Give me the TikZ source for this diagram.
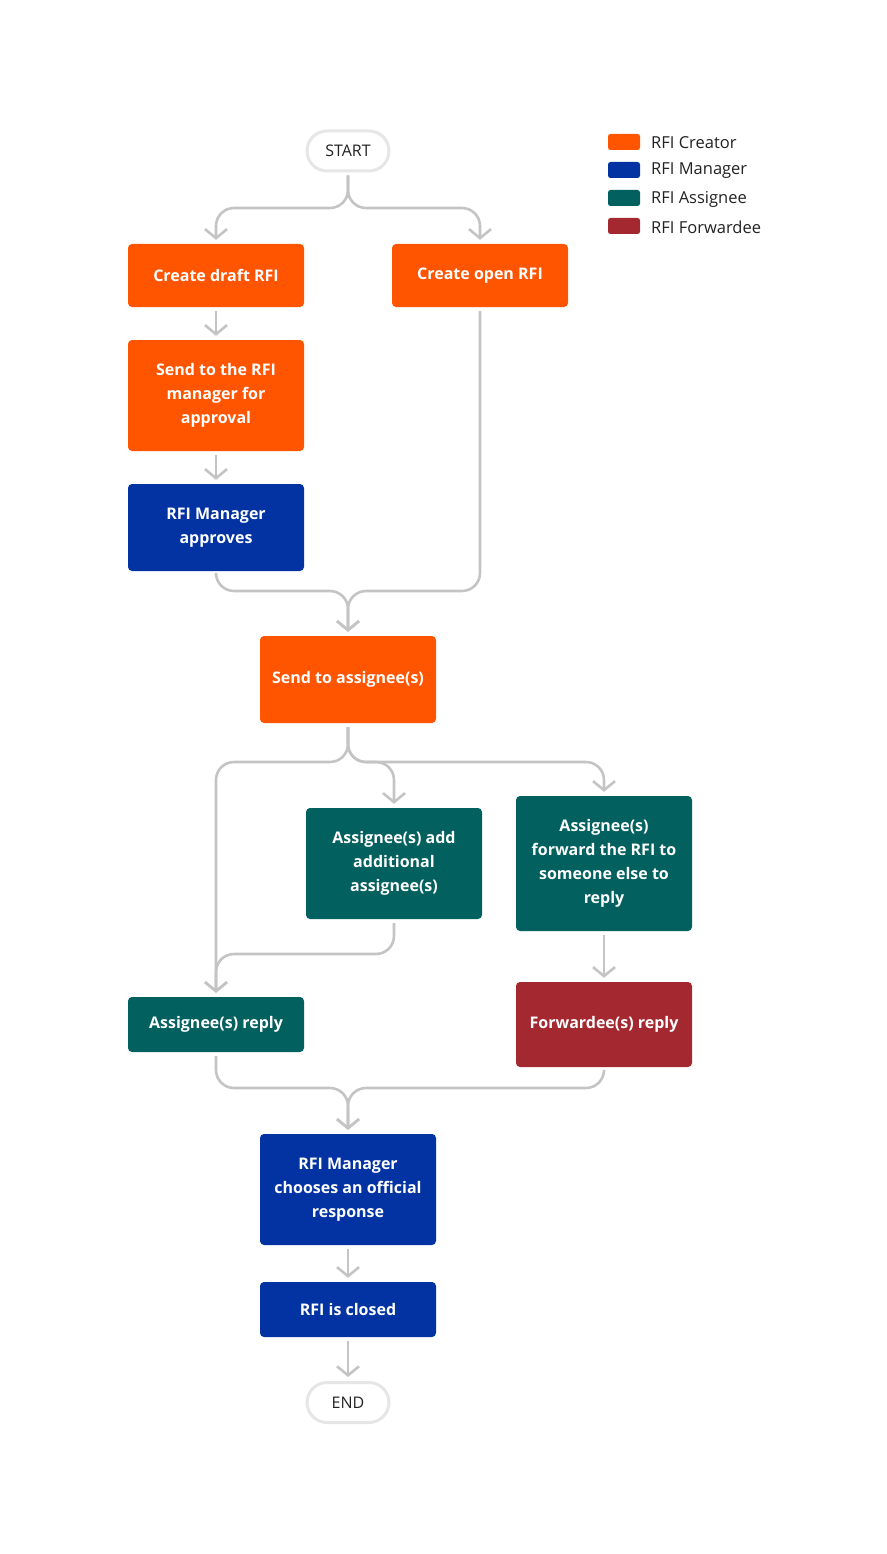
\documentclass[tikz,border=0pt]{standalone}
\usepackage{fontspec}
\setmainfont{Open Sans}
\usetikzlibrary{arrows.meta}
\definecolor{cOrange}{HTML}{FF5400}
\definecolor{cBlue}{HTML}{0333A3}
\definecolor{cTeal}{HTML}{02605E}
\definecolor{cRed}{HTML}{A3282F}
\definecolor{cLine}{HTML}{C4C4C4}
\definecolor{cTerm}{HTML}{E6E6E6}
\definecolor{cText}{HTML}{222222}
\tikzset{
  box/.style={rectangle, rounded corners=4pt, minimum width=176pt, inner sep=0pt,
    text=white, align=center, font=\fontsize{16}{24}\selectfont\bfseries,
    execute at begin node={\vspace*{2pt}}},
  term/.style={rectangle, rounded corners=20pt, draw=cTerm, line width=3pt, fill=white,
    minimum width=82pt, minimum height=40pt, inner sep=0pt, text=cText,
    font=\fontsize{16}{20}\selectfont},
  swatch/.style={rectangle, rounded corners=2.5pt, minimum width=32pt, minimum height=16pt, inner sep=0pt},
  legtext/.style={anchor=west, inner sep=0pt, text=cText, font=\fontsize{16.5}{20}\selectfont},
  conn/.style={draw=cLine, line width=2.6pt, rounded corners=18pt},
  arr/.style={conn, -{Straight Barb[length=9pt,width=22pt,line width=2.6pt]}},
}
\begin{document}
\begin{tikzpicture}[x=1pt,y=-1pt]
\useasboundingbox (0,0) rectangle (886,1554);
% legend
\node[swatch, fill=cOrange] (s1) at (624,142) {};
\node[swatch, fill=cBlue] (s2) at (624,170) {};
\node[swatch, fill=cTeal] (s3) at (624,198) {};
\node[swatch, fill=cRed] (s4) at (624,226) {};
\node[legtext] (l1) at (651,143) {RFI Creator};
\node[legtext] (l2) at (651,171) {RFI Manager};
\node[legtext] (l3) at (651,199) {RFI Assignee};
\node[legtext] (l4) at (651,227) {RFI Forwardee};
% nodes
\node[term] (start) at (348,151) {START};
\node[box, fill=cOrange, minimum height=63pt] (draft) at (216,275.5) {Create draft RFI};
\node[box, fill=cOrange, minimum height=63pt] (open) at (480,275.5) {Create open RFI};
\node[box, fill=cOrange, minimum height=111pt] (send) at (216,395.5) {Send to the RFI\\manager for\\approval};
\node[box, fill=cBlue, minimum height=87pt] (appr) at (216,527.5) {RFI Manager\\approves};
\node[box, fill=cOrange, minimum height=87pt] (assign) at (348,679.5) {Send to assignee(s)};
\node[box, fill=cTeal, minimum height=111pt] (add) at (394,863.5) {Assignee(s) add\\additional\\assignee(s)};
\node[box, fill=cTeal, minimum height=135pt] (fwd) at (604,863.5) {Assignee(s)\\forward the RFI to\\someone else to\\reply};
\node[box, fill=cTeal, minimum height=55pt] (reply) at (216,1024.5) {Assignee(s) reply};
\node[box, fill=cRed, minimum height=85pt] (fwdr) at (604,1024.5) {Forwardee(s) reply};
\node[box, fill=cBlue, minimum height=111pt] (choose) at (348,1189.5) {RFI Manager\\chooses an official\\response};
\node[box, fill=cBlue, minimum height=55pt] (closed) at (348,1309.5) {RFI is closed};
\node[term] (end) at (348,1402.5) {END};
% junction coordinates
\coordinate (j1) at (348,208);
\coordinate (j2) at (348,591);
\coordinate (j3) at (348,762);
\coordinate (j4) at (348,1088);
% connectors
\draw[arr] ([yshift=-3pt]start.south) -- (j1) -- (216,208) -- ([yshift=4pt]draft.north);
\draw[arr] ([yshift=-3pt]start.south) -- (j1) -- (480,208) -- ([yshift=4pt]open.north);
\draw[arr] ([yshift=-4pt]draft.south) -- ([yshift=4pt]send.north);
\draw[arr] ([yshift=-4pt]send.south) -- ([yshift=4pt]appr.north);
\draw[arr] ([yshift=-4pt]appr.south) -- (216,591) -- (j2) -- ([yshift=4pt]assign.north);
\draw[arr] ([yshift=-4pt]open.south) -- (480,591) -- (j2) -- ([yshift=4pt]assign.north);
\draw[arr] ([yshift=-4pt]assign.south) -- (j3) -- (216,762) -- ([yshift=4pt]reply.north);
\draw[arr] ([yshift=-4pt]assign.south) -- (j3) -- (394,762) -- ([yshift=4pt]add.north);
\draw[arr] ([yshift=-4pt]assign.south) -- (j3) -- (604,762) -- ([yshift=4pt]fwd.north);
\draw[arr] ([yshift=-4pt]add.south) -- (394,954) -- (216,954) -- ([yshift=4pt]reply.north);
\draw[arr] ([yshift=-4pt]fwd.south) -- ([yshift=4pt]fwdr.north);
\draw[arr] ([yshift=-4pt]reply.south) -- (216,1088) -- (j4) -- ([yshift=4pt]choose.north);
\draw[arr] ([yshift=-4pt]fwdr.south) -- (604,1088) -- (j4) -- ([yshift=4pt]choose.north);
\draw[arr] ([yshift=-4pt]choose.south) -- ([yshift=4pt]closed.north);
\draw[arr] ([yshift=-4pt]closed.south) -- ([yshift=4pt]end.north);
\end{tikzpicture}
\end{document}
